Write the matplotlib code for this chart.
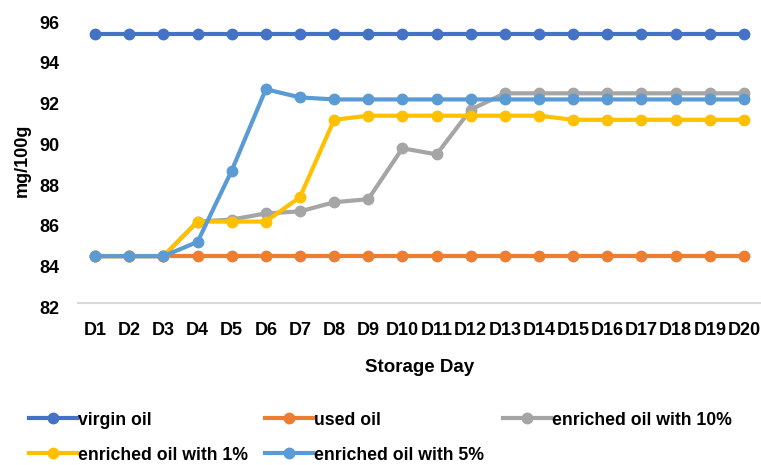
import matplotlib
matplotlib.use("Agg")
import matplotlib.pyplot as plt
import matplotlib.transforms as mtransforms
from matplotlib.lines import Line2D

days = [f"D{i}" for i in range(1, 21)]
virgin_oil = [95.2] * 20
used_oil = [84.3] * 20
enriched_10 = [84.3, 84.3, 84.3, 86.0, 86.1, 86.4, 86.5, 86.95, 87.1, 89.6,
               89.3, 91.5, 92.3, 92.3, 92.3, 92.3, 92.3, 92.3, 92.3, 92.3]
enriched_1 = [84.3, 84.3, 84.3, 86.0, 86.0, 86.0, 87.2, 91.0, 91.2, 91.2,
              91.2, 91.2, 91.2, 91.2, 91.0, 91.0, 91.0, 91.0, 91.0, 91.0]
enriched_5 = [84.3, 84.3, 84.3, 85.0, 88.5, 92.5, 92.1, 92.0, 92.0, 92.0,
              92.0, 92.0, 92.0, 92.0, 92.0, 92.0, 92.0, 92.0, 92.0, 92.0]
y_ticks = [82, 84, 86, 88, 90, 92, 94, 96]

plt.rcParams['font.family'] = ['Liberation Sans', 'DejaVu Sans']
plt.rcParams['font.weight'] = 'bold'

W, H = 761, 465
fig = plt.figure(figsize=(W / 100, H / 100), dpi=100)
ax_left, ax_right, ax_top, ax_bottom = 78, 761, 18, 303
ax = fig.add_axes([ax_left / W, 1 - ax_bottom / H,
                   (ax_right - ax_left) / W, (ax_bottom - ax_top) / H])

x = list(range(len(days)))
series = [
    ("virgin oil", virgin_oil, "#4472C4"),
    ("used oil", used_oil, "#ED7D31"),
    ("enriched oil with 10%", enriched_10, "#A5A5A5"),
    ("enriched oil with 1%", enriched_1, "#FFC000"),
    ("enriched oil with 5%", enriched_5, "#5B9BD5"),
]
colors = {}
for name, vals, col in series:
    ax.plot(x, vals, color=col, lw=3, marker='o', ms=7.5,
            markeredgecolor=col, solid_capstyle='round', clip_on=False)
    colors[name] = col

ax.set_xlim(-0.5, len(days) - 0.5)
ax.set_ylim(82, 96)
ax.set_yticks(y_ticks)
ax.set_yticklabels([str(v) for v in y_ticks], fontsize=13, fontweight='bold')
ax.set_xticks(x)
ax.set_xticklabels(days, fontsize=13, fontweight='bold')
ax.tick_params(axis='both', length=0)
ax.tick_params(axis='y', pad=13.5)
ax.tick_params(axis='x', pad=14)
shift = mtransforms.ScaledTranslation(0, -3 / 72, fig.dpi_scale_trans)
for lbl in ax.get_yticklabels():
    lbl.set_transform(lbl.get_transform() + shift)
for s in ['top', 'right', 'left']:
    ax.spines[s].set_visible(False)
ax.spines['bottom'].set_color('#D9D9D9')
ax.spines['bottom'].set_linewidth(1.5)

ax.set_xlabel("Storage Day", fontsize=13.5, fontweight='bold', labelpad=14)
ax.set_ylabel("mg/100g", fontsize=13, fontweight='bold', labelpad=6)

# legend entries on a fixed grid: left x of the handle (px), row centre y (px)
legend_slots = [
    ("virgin oil", 29, 420),
    ("used oil", 265, 420),
    ("enriched oil with 10%", 503, 420),
    ("enriched oil with 1%", 29, 455),
    ("enriched oil with 5%", 265, 455),
]
for name, px, py in legend_slots:
    col = colors[name]
    proxy = Line2D([], [], color=col, lw=3, marker='o', ms=7.5,
                   markeredgecolor=col)
    fig.legend([proxy], [name], loc='center left',
               bbox_to_anchor=(px / W, 1 - py / H),
               frameon=False, fontsize=12.7, handlelength=2.7,
               handletextpad=0.1, borderaxespad=0, borderpad=0)

fig.savefig("out.png", dpi=100)
